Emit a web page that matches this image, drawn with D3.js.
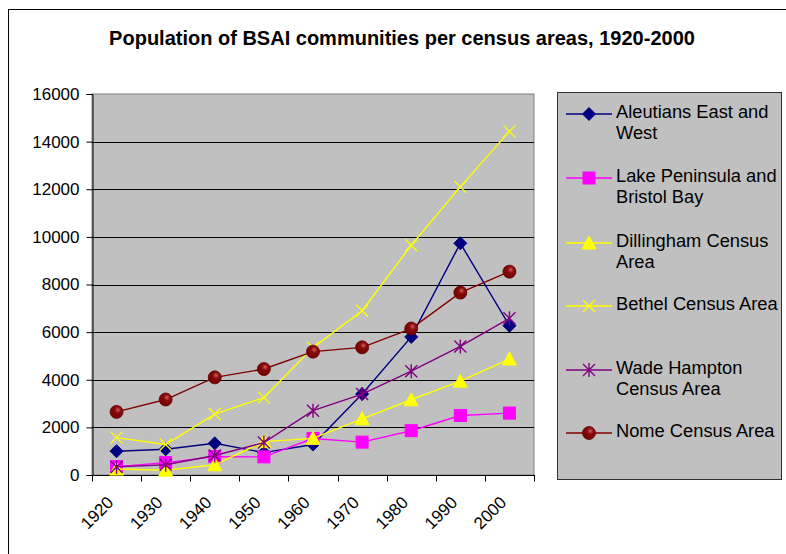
<!DOCTYPE html>
<html>
<head>
<meta charset="utf-8">
<script src="https://cdn.jsdelivr.net/npm/d3@7"></script>
<style>
  html, body { margin: 0; padding: 0; background: #fff; }
  svg { display: block; font-family: "Liberation Sans", Arial, sans-serif; }
</style>
</head>
<body>
<svg id="chart" width="786" height="554"></svg>
<script>
// Census years (category axis)
const years = ["1920", "1930", "1940", "1950", "1960", "1970", "1980", "1990", "2000"];

// Population per census area
const aleutians  = [1000, 1080, 1330, 940, 1280, 3400, 5800, 9730, 6270];
const lakePen    = [350, 520, 770, 760, 1530, 1380, 1860, 2500, 2600];
const dillingham = [250, 200, 430, 1400, 1540, 2360, 3160, 3940, 4870];
const bethel     = [1570, 1280, 2560, 3250, 5350, 6900, 9650, 12100, 14430];
const wadeHampton = [340, 430, 820, 1360, 2700, 3400, 4360, 5400, 6580];
const nome       = [2650, 3170, 4100, 4450, 5180, 5360, 6150, 7660, 8540];

const yTicks = [0, 2000, 4000, 6000, 8000, 10000, 12000, 14000, 16000];

const seriesNames = [
  ["Aleutians East and", "West"],
  ["Lake Peninsula and", "Bristol Bay"],
  ["Dillingham Census", "Area"],
  ["Bethel Census Area"],
  ["Wade Hampton", "Census Area"],
  ["Nome Census Area"]
];

const series = [
  { name: seriesNames[0], values: aleutians,   color: "#000080", marker: "diamond" },
  { name: seriesNames[1], values: lakePen,     color: "#FF00FF", marker: "square" },
  { name: seriesNames[2], values: dillingham,  color: "#FFFF00", marker: "triangle" },
  { name: seriesNames[3], values: bethel,      color: "#FFFF00", marker: "x" },
  { name: seriesNames[4], values: wadeHampton, color: "#800080", marker: "star" },
  { name: seriesNames[5], values: nome,        color: "#800000", marker: "circle" }
];

const svg = d3.select("#chart");

// gradient for the shaded round markers
const defs = svg.append("defs");
const rg = defs.append("radialGradient").attr("id", "ballRed")
  .attr("cx", "0.6").attr("cy", "0.35").attr("r", "0.7");
rg.append("stop").attr("offset", "0%").attr("stop-color", "#c86060");
rg.append("stop").attr("offset", "35%").attr("stop-color", "#8a0a0a");
rg.append("stop").attr("offset", "100%").attr("stop-color", "#700000");

// outer chart frame
svg.append("rect").attr("x", 8.5).attr("y", 9.5).attr("width", 800).attr("height", 600)
  .attr("fill", "#fff").attr("stroke", "#000").attr("stroke-width", 1);

// title
svg.append("text").attr("x", 402).attr("y", 45).attr("text-anchor", "middle")
  .attr("font-size", 20).attr("font-weight", "bold").attr("fill", "#000")
  .text("Population of BSAI communities per census areas, 1920-2000");

const plot = { left: 92, right: 534, top: 94, bottom: 475 };

const x = d3.scaleBand().domain(years).range([plot.left, plot.right]).padding(0);
const y = d3.scaleLinear().domain([0, 16000]).range([plot.bottom, plot.top]);

// plot background
svg.append("rect").attr("x", plot.left).attr("y", plot.top)
  .attr("width", plot.right - plot.left).attr("height", plot.bottom - plot.top)
  .attr("fill", "#C0C0C0").attr("stroke", "#808080").attr("stroke-width", 1);

// horizontal gridlines
svg.append("g").selectAll("line").data(yTicks.filter(d => d > 0 && d < 16000)).join("line")
  .attr("x1", plot.left).attr("x2", plot.right)
  .attr("y1", d => Math.round(y(d)) + 0.5).attr("y2", d => Math.round(y(d)) + 0.5)
  .attr("stroke", "#000").attr("stroke-width", 1);

// y axis
const yAxis = svg.append("g").attr("transform", `translate(${plot.left + 0.5},0)`)
  .call(d3.axisLeft(y).tickValues(yTicks).tickFormat(d3.format("d")).tickSize(6).tickPadding(7));
yAxis.select(".domain").attr("stroke", "#000");
yAxis.selectAll(".tick line").attr("stroke", "#000");
yAxis.selectAll("text").attr("font-size", 17).attr("fill", "#000")
  .attr("font-family", "Liberation Sans, Arial, sans-serif");

// x axis: ticks on band boundaries
const xAxisG = svg.append("g").attr("transform", `translate(0,${plot.bottom + 0.5})`);
xAxisG.append("line").attr("x1", plot.left).attr("x2", plot.right + 1)
  .attr("y1", 0).attr("y2", 0).attr("stroke", "#000");
const boundaries = years.map(d => x(d)).concat([plot.right]);
xAxisG.selectAll("line.tk").data(boundaries).join("line").attr("class", "tk")
  .attr("x1", d => Math.round(d) + 0.5).attr("x2", d => Math.round(d) + 0.5)
  .attr("y1", 0).attr("y2", 6).attr("stroke", "#000");
xAxisG.selectAll("text").data(years).join("text")
  .attr("transform", d => `translate(${x(d) + x.bandwidth() / 2 - 2},${28}) rotate(-45)`)
  .attr("text-anchor", "end").attr("font-size", 17).attr("fill", "#000")
  .text(d => d);

// marker drawing
function drawMarker(g, type, color, cx, cy) {
  if (type === "diamond") {
    g.append("path").attr("d", `M${cx},${cy - 6.5}L${cx + 6.5},${cy}L${cx},${cy + 6.5}L${cx - 6.5},${cy}Z`)
      .attr("fill", color).attr("stroke", color);
  } else if (type === "square") {
    g.append("rect").attr("x", cx - 6).attr("y", cy - 6).attr("width", 12).attr("height", 12)
      .attr("fill", color).attr("stroke", color);
  } else if (type === "triangle") {
    g.append("path").attr("d", `M${cx},${cy - 7}L${cx + 7},${cy + 6}L${cx - 7},${cy + 6}Z`)
      .attr("fill", color).attr("stroke", color);
  } else if (type === "x") {
    g.append("path").attr("d", `M${cx - 6},${cy - 6}L${cx + 6},${cy + 6}M${cx + 6},${cy - 6}L${cx - 6},${cy + 6}`)
      .attr("stroke", color).attr("stroke-width", 1.3).attr("fill", "none");
  } else if (type === "star") {
    g.append("path").attr("d",
      `M${cx - 6},${cy - 6}L${cx + 6},${cy + 6}M${cx + 6},${cy - 6}L${cx - 6},${cy + 6}M${cx},${cy - 7}L${cx},${cy + 7}`)
      .attr("stroke", color).attr("stroke-width", 1.4).attr("fill", "none");
  } else if (type === "circle") {
    g.append("circle").attr("cx", cx).attr("cy", cy).attr("r", 6.5)
      .attr("fill", "url(#ballRed)").attr("stroke", "#600000").attr("stroke-width", 0.8);
  }
}

const line = d3.line().x((d, i) => x(years[i]) + x.bandwidth() / 2).y(d => y(d));

const marks = svg.append("g");
series.forEach(s => {
  const g = marks.append("g");
  g.append("path").datum(s.values).attr("d", line)
    .attr("fill", "none").attr("stroke", s.color).attr("stroke-width", 1.4);
  s.values.forEach((v, i) => drawMarker(g, s.marker, s.color, x(years[i]) + x.bandwidth() / 2, y(v)));
});

// legend
const legend = svg.append("g");
legend.append("rect").attr("x", 557.5).attr("y", 92.5).attr("width", 224).attr("height", 387)
  .attr("fill", "#C0C0C0").attr("stroke", "#303030").attr("stroke-width", 1);
const rowY = [114, 178, 243, 306, 370, 433];
series.forEach((s, i) => {
  const g = legend.append("g");
  const cy = rowY[i];
  g.append("line").attr("x1", 566).attr("x2", 612).attr("y1", cy).attr("y2", cy)
    .attr("stroke", s.color).attr("stroke-width", 1.4);
  drawMarker(g, s.marker, s.color, 589, cy);
  s.name.forEach((t, j) => {
    g.append("text").attr("x", 616).attr("y", cy + 4 + j * 21)
      .attr("font-size", 18.3).attr("fill", "#000").text(t);
  });
});
</script>
</body>
</html>
